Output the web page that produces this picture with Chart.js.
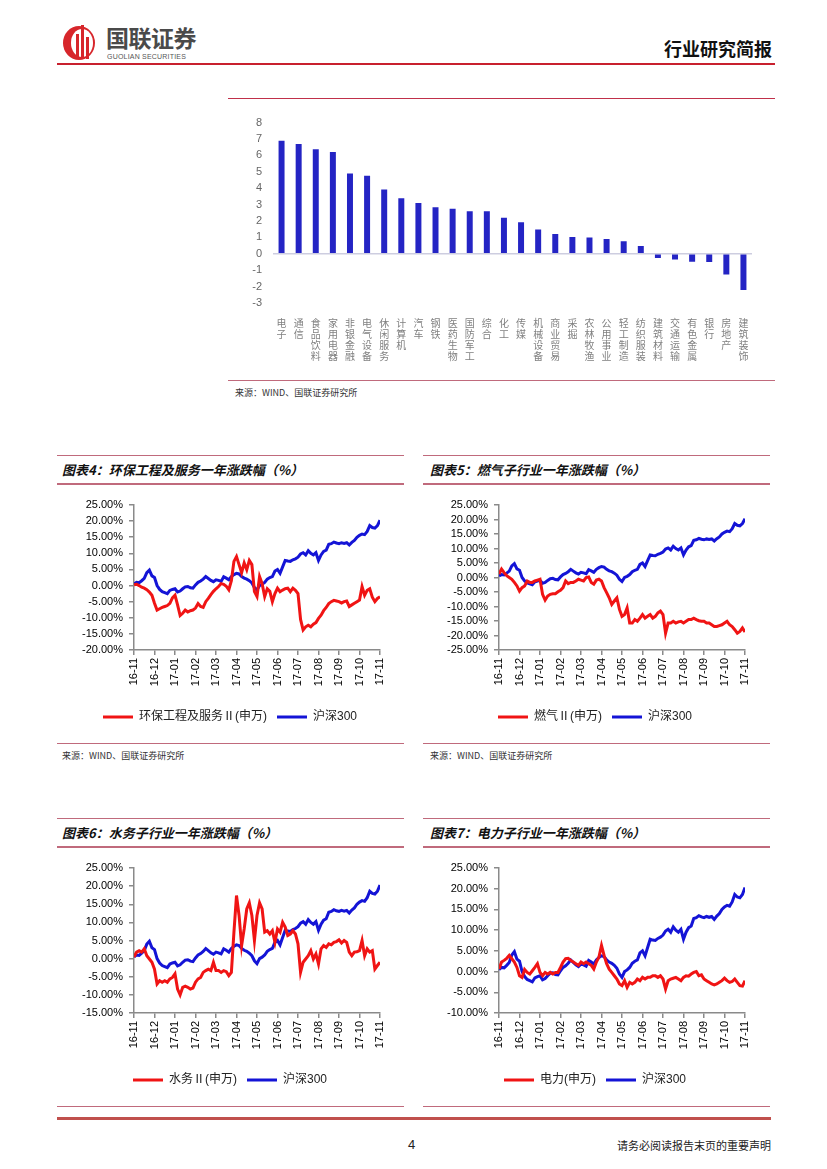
<!DOCTYPE html>
<html lang="zh-CN">
<head>
<meta charset="utf-8">
<title>行业研究简报</title>
<script src="https://cdn.jsdelivr.net/npm/chart.js@4.4.0/dist/chart.umd.min.js"></script>
<style>
  body { margin: 0; background: #fff; }
  .page { position: relative; width: 827px; height: 1169px; overflow: hidden; background: #fff;
    font-family: 'Liberation Sans', Arial, 'Noto Sans CJK SC', sans-serif; }
  .abs { position: absolute; }
  .rule { position: absolute; height: 1px; background: #c06a7c; }
  .title { position: absolute; font: italic bold 13px/18px 'Noto Sans CJK SC', sans-serif; color: #111; white-space: nowrap; }
  .src { position: absolute; font: 9px/12px 'Noto Sans CJK SC', sans-serif; color: #333; white-space: nowrap; }
  canvas { position: absolute; }
</style>
</head>
<body>
<div class="page">
  <!-- header -->
  <svg class="abs" style="left:60px;top:22px" width="44" height="40" viewBox="0 0 44 40">
    <ellipse cx="19" cy="21" rx="16" ry="17" fill="#d7262b"/>
    <ellipse cx="22" cy="21" rx="11" ry="14" fill="#fff"/>
    <rect x="16" y="12" width="3" height="25" fill="#d7262b"/>
    <rect x="21" y="3" width="3" height="34" fill="#d7262b"/>
    <rect x="26" y="15" width="3" height="22" fill="#d7262b"/>
  </svg>
  <div class="abs" style="left:106px;top:24px;font:bold 23px/26px 'Noto Sans CJK SC',sans-serif;color:#4a4a4a;letter-spacing:-0.5px">国联证券</div>
  <div class="abs" style="left:107px;top:53px;font:7px/8px 'Liberation Sans',sans-serif;color:#555;letter-spacing:0.2px">GUOLIAN SECURITIES</div>
  <div class="abs" style="left:664px;top:37px;font:bold 18px/22px 'Noto Sans CJK SC',sans-serif;color:#111">行业研究简报</div>
  <div class="rule" style="left:57px;top:63px;width:718px;height:2px;background:#c8202e"></div>

  <!-- industry bar chart -->
  <div class="rule" style="left:228px;top:98px;width:547px;background:#c0304a"></div>
  <canvas id="barChart" width="547" height="263" style="left:228px;top:105px"></canvas>
  <div class="rule" style="left:228px;top:380px;width:547px"></div>
  <div class="src" style="left:235px;top:387px">来源：WIND、国联证券研究所</div>

  <!-- chart 4 -->
  <div class="rule" style="left:57px;top:455px;width:347px"></div>
  <div class="title" style="left:62px;top:461px">图表4：环保工程及服务一年涨跌幅（%）</div>
  <div class="rule" style="left:57px;top:483px;width:347px;height:2px"></div>
  <canvas id="envChart" width="325" height="250" style="left:80px;top:490px"></canvas>
  <div class="rule" style="left:57px;top:743px;width:347px"></div>
  <div class="src" style="left:62px;top:750px">来源：WIND、国联证券研究所</div>

  <!-- chart 5 -->
  <div class="rule" style="left:423px;top:455px;width:347px"></div>
  <div class="title" style="left:430px;top:461px">图表5：燃气子行业一年涨跌幅（%）</div>
  <div class="rule" style="left:423px;top:483px;width:347px;height:2px"></div>
  <canvas id="gasChart" width="325" height="250" style="left:445px;top:490px"></canvas>
  <div class="rule" style="left:423px;top:743px;width:347px"></div>
  <div class="src" style="left:430px;top:750px">来源：WIND、国联证券研究所</div>

  <!-- chart 6 -->
  <div class="rule" style="left:57px;top:818px;width:347px"></div>
  <div class="title" style="left:62px;top:824px">图表6：水务子行业一年涨跌幅（%）</div>
  <div class="rule" style="left:57px;top:846px;width:347px;height:2px"></div>
  <canvas id="waterChart" width="325" height="250" style="left:80px;top:853px"></canvas>
  <div class="rule" style="left:57px;top:1106px;width:347px"></div>

  <!-- chart 7 -->
  <div class="rule" style="left:423px;top:818px;width:347px"></div>
  <div class="title" style="left:430px;top:824px">图表7：电力子行业一年涨跌幅（%）</div>
  <div class="rule" style="left:423px;top:846px;width:347px;height:2px"></div>
  <canvas id="powerChart" width="325" height="250" style="left:445px;top:853px"></canvas>
  <div class="rule" style="left:423px;top:1106px;width:347px"></div>

  <!-- footer -->
  <div class="rule" style="left:57px;top:1117px;width:714px;height:3px;background:#c0504d"></div>
  <div class="abs" style="left:408px;top:1137px;font:13px/16px 'Liberation Sans',sans-serif;color:#222">4</div>
  <div class="abs" style="right:56px;top:1138px;font:11px/14px 'Noto Sans CJK SC',sans-serif;color:#222">请务必阅读报告末页的重要声明</div>
</div>

<script>
// industry one-year change
const industries = ['电子', '通信', '食品饮料', '家用电器', '非银金融', '电气设备', '休闲服务', '计算机', '汽车', '钢铁',
  '医药生物', '国防军工', '综合', '化工', '传媒', '机械设备', '商业贸易', '采掘', '农林牧渔', '公用事业',
  '轻工制造', '纺织服装', '建筑材料', '交通运输', '有色金属', '银行', '房地产', '建筑装饰'];
const industryChange = [6.9, 6.7, 6.38, 6.2, 4.9, 4.76, 3.92, 3.38, 3.1, 2.84,
  2.74, 2.6, 2.6, 2.2, 1.92, 1.48, 1.2, 1.02, 1.0, 0.9,
  0.76, 0.48, -0.26, -0.34, -0.48, -0.5, -1.26, -2.2];

// month tick labels, 8 samples per month
const monthLabels = ['16-11', '16-12', '17-01', '17-02', '17-03', '17-04', '17-05', '17-06', '17-07', '17-08', '17-09', '17-10', '17-11'];
const perMonth = 8;

const hs300 = [0.5, 1.0, 0.9, 1.5, 2.2, 4.0, 4.8, 3.0,
  2.5, 0.0, -1.2, -1.9, -2.2, -2.5, -1.5, -1.2,
  -1.0, -2.0, -1.7, -1.0, -0.4, -0.3, -0.7, -0.8,
  0.2, 1.0, 1.4, 2.0, 2.8, 2.2, 1.6, 1.2,
  1.8, 1.6, 1.3, 2.7, 2.3, 1.8, 2.8, 3.4,
  3.8, 3.6, 2.8, 2.3, 2.0, 1.5, 0.8, -0.6,
  -1.4, 0.0, 0.4, 1.0, 2.0, 2.5, 2.8, 4.5,
  5.0, 3.8, 5.8, 7.8, 7.6, 7.5, 8.0, 8.3,
  8.8, 9.8, 10.2, 9.5, 10.8, 10.0, 9.5, 10.2,
  7.8, 9.5, 10.6, 11.0, 12.8, 13.0, 13.5, 13.2,
  13.0, 13.3, 13.1, 13.3, 12.6, 13.4, 14.0, 15.0,
  15.6, 16.0, 15.8, 16.8, 18.6, 18.0, 17.8, 18.6,
  20.3];

const envService = [0.2, 0.4, 0.0, -0.5, -0.8, -1.3, -2.0, -3.0,
  -5.5, -7.6, -7.2, -6.8, -6.5, -6.2, -5.5, -3.8,
  -3.0, -6.0, -9.3, -8.6, -7.6, -8.2, -7.8, -7.6,
  -7.0, -5.6, -6.5, -6.8, -5.0, -4.0, -2.8, -1.8,
  -1.0, -0.3, 0.6, 0.4, -0.2, -1.3, 1.5, 7.5,
  9.0, 6.5, 4.0, 7.0, 4.9, 7.8, 6.5, -1.9,
  -3.4, 2.8, 0.6, -3.4, -1.0, -1.8, -5.0, -2.5,
  -0.8, -1.9, -1.4, -1.0, -0.8, -1.9, -0.8, -1.5,
  -2.5, -10.5, -13.8, -12.8, -12.3, -12.8, -12.0, -11.5,
  -10.2, -9.2, -7.8, -6.8, -5.6, -5.0, -4.6, -4.8,
  -5.0, -5.4, -5.0, -4.8, -6.5, -6.0, -5.5, -5.0,
  -4.5, -0.3, -3.0, -1.5, -1.0, -3.6, -5.0, -4.0,
  -3.5];

const gas = [1.2, 2.9, 1.7, 0.6, 0.0, -0.6, -1.7, -2.9,
  -4.7, -3.5, -2.9, -1.2, -1.7, -1.7, -1.2, -0.9,
  -0.6, -5.8, -7.8, -6.4, -5.8, -5.6, -5.6, -4.9,
  -4.4, -3.5, -1.2, -2.1, -1.7, -1.7, -1.2, -0.6,
  -0.9, -1.2, 0.0, 0.2, -1.7, -2.3, -0.9, -0.6,
  -1.2, -3.5, -5.2, -7.0, -9.3, -8.1, -7.0, -11.0,
  -13.4, -12.8, -10.5, -15.7, -15.7, -14.5, -15.1, -14.0,
  -12.8, -14.0, -13.4, -12.8, -14.0, -13.4, -12.2, -11.6,
  -12.8, -19.2, -15.7, -15.7, -15.1, -15.7, -15.3, -15.1,
  -15.7, -15.1, -14.5, -14.5, -14.0, -14.5, -14.9, -15.1,
  -15.1, -15.7, -15.7, -16.3, -16.9, -16.9, -16.6, -16.3,
  -15.7, -15.1, -16.3, -16.9, -18.0, -19.2, -18.6, -17.4,
  -18.8];

const water = [0.4, 1.8, 2.2, 1.8, 2.7, 0.8, -0.1, -1.0,
  -2.9, -7.0, -6.1, -6.5, -6.1, -6.5, -5.6, -5.2,
  -4.2, -8.4, -10.0, -7.9, -7.6, -7.9, -8.4, -8.1,
  -6.5, -5.6, -5.2, -3.8, -3.3, -2.9, -3.3, -1.0,
  -3.3, -3.3, -3.8, -3.3, -3.6, -4.7, -3.8, 7.3,
  17.4, 11.9, 3.6, 8.2, 13.7, 15.4, 11.9, 5.0,
  11.9, 15.4, 13.7, 7.3, 7.7, 6.8, 7.7, 4.5,
  8.2, 7.3, 10.0, 8.7, 6.4, 6.8, 7.7, 6.8,
  4.1, -3.8, -1.0, -0.1, 0.8, 2.2, -0.1, 1.3,
  -1.5, 2.7, 3.6, 3.1, 4.1, 3.8, 4.5, 4.7,
  5.2, 4.3, 5.0, 4.5, 1.8, 0.8, 1.8, 1.9,
  2.2, 5.0, 0.8, 2.7, 1.8, 2.2, -2.9, -1.9,
  -1.0];

const power = [0.6, 2.3, 2.7, 3.2, 3.9, 3.1, 2.3, 1.0,
  -1.0, -1.4, 0.5, -0.2, -0.6, 0.2, 1.0, 1.9,
  -0.2, -1.0, -0.2, -0.6, -0.2, -0.6, -0.2, -0.2,
  1.0, 2.3, 3.1, 3.2, 2.7, 2.3, 1.9, 1.5,
  2.3, 1.9, 2.3, 1.9, 1.5, 0.6, 2.3, 3.5,
  6.3, 3.9, 1.9, 0.6, -0.2, -1.0, -1.8, -3.0,
  -3.4, -2.2, -3.8, -2.6, -3.0, -2.6, -1.8, -2.2,
  -1.4, -1.8, -1.4, -1.4, -1.0, -1.0, -1.4, -1.0,
  -1.8, -4.2, -2.2, -1.8, -1.6, -1.4, -1.8, -2.2,
  -1.4, -1.0, -1.1, -0.6, -0.2, 0.0, -1.0, -0.8,
  -1.8, -2.2, -2.6, -3.0, -3.2, -3.0, -2.6, -2.2,
  -1.6, -2.2, -2.6, -2.4, -1.8, -2.6, -3.4, -3.5,
  -2.2];

const RED = '#f01414';
const BLUE = '#1414d6';
const AXIS = '#8a8a8a';
const FONT = "'Liberation Sans', Arial, 'Noto Sans CJK SC', sans-serif";

Chart.defaults.font.family = FONT;
Chart.defaults.animation = false;

new Chart(document.getElementById('barChart'), {
  type: 'bar',
  data: {
    labels: industries.map(name => name.split('')),
    datasets: [{
      data: industryChange,
      backgroundColor: '#2424c4',
      barPercentage: 0.7,
      categoryPercentage: 0.5,
    }],
  },
  options: {
    responsive: false,
    events: [],
    layout: { padding: { top: 15, right: 23, bottom: 0, left: 0 } },
    plugins: { legend: { display: false }, tooltip: { enabled: false } },
    scales: {
      x: {
        grid: { display: false },
        border: { display: false },
        ticks: {
          autoSkip: false, maxRotation: 0, minRotation: 0, padding: 7, color: '#808080',
          font: { size: 10, lineHeight: 1.1, family: "'Noto Sans CJK SC', sans-serif" },
        },
        afterFit(scale) { scale.height = 65; },
      },
      y: {
        min: -3,
        max: 8,
        border: { display: false },
        grid: {
          drawTicks: false,
          lineWidth: 1.5,
          color: c => (c.tick && c.tick.value === 0 ? '#cdcde0' : 'rgba(0,0,0,0)'),
        },
        ticks: { stepSize: 1, autoSkip: false, padding: 11, color: '#666', font: { size: 11 } },
        afterFit(scale) { scale.width = 45; },
      },
    },
  },
});

function lineChart(id, label, series, yMin, yMax) {
  new Chart(document.getElementById(id), {
    type: 'line',
    data: {
      labels: hs300.map((_, i) => i),
      datasets: [
        { label: label, data: series, borderColor: RED, backgroundColor: RED, borderWidth: 3, pointRadius: 0, tension: 0 },
        { label: '沪深300', data: hs300, borderColor: BLUE, backgroundColor: BLUE, borderWidth: 3, pointRadius: 0, tension: 0 },
      ],
    },
    options: {
      responsive: false,
      events: [],
      layout: { padding: { top: 15, right: 25, bottom: 7, left: 0 } },
      plugins: {
        tooltip: { enabled: false },
        legend: {
          position: 'bottom',
          labels: {
            usePointStyle: true,
            pointStyle: 'line',
            pointStyleWidth: 30,
            padding: 10,
            color: '#222',
            font: { size: 12 },
          },
        },
      },
      scales: {
        x: {
          type: 'linear',
          min: 0,
          max: hs300.length - 1,
          border: { color: AXIS, width: 1.5 },
          grid: { drawOnChartArea: false, tickLength: 5, color: AXIS, lineWidth: 1.5 },
          ticks: {
            stepSize: perMonth,
            autoSkip: false,
            maxRotation: 90,
            minRotation: 90,
            padding: 3,
            color: '#000',
            font: { size: 11 },
            callback: v => monthLabels[v / perMonth],
          },
          afterFit(scale) { scale.height = 51; },
        },
        y: {
          min: yMin,
          max: yMax,
          border: { color: AXIS, width: 1.5 },
          grid: { drawOnChartArea: false, tickLength: 5, color: AXIS, lineWidth: 1.5 },
          ticks: {
            stepSize: 5, autoSkip: false, padding: 6, color: '#000', font: { size: 11 },
            callback: v => v.toFixed(2) + '%',
          },
          afterFit(scale) { scale.width = 54; },
        },
      },
    },
  });
}

lineChart('envChart', '环保工程及服务Ⅱ(申万)', envService, -20, 25);
lineChart('gasChart', '燃气Ⅱ(申万)', gas, -25, 25);
lineChart('waterChart', '水务Ⅱ(申万)', water, -15, 25);
lineChart('powerChart', '电力(申万)', power, -10, 25);
</script>
</body>
</html>
